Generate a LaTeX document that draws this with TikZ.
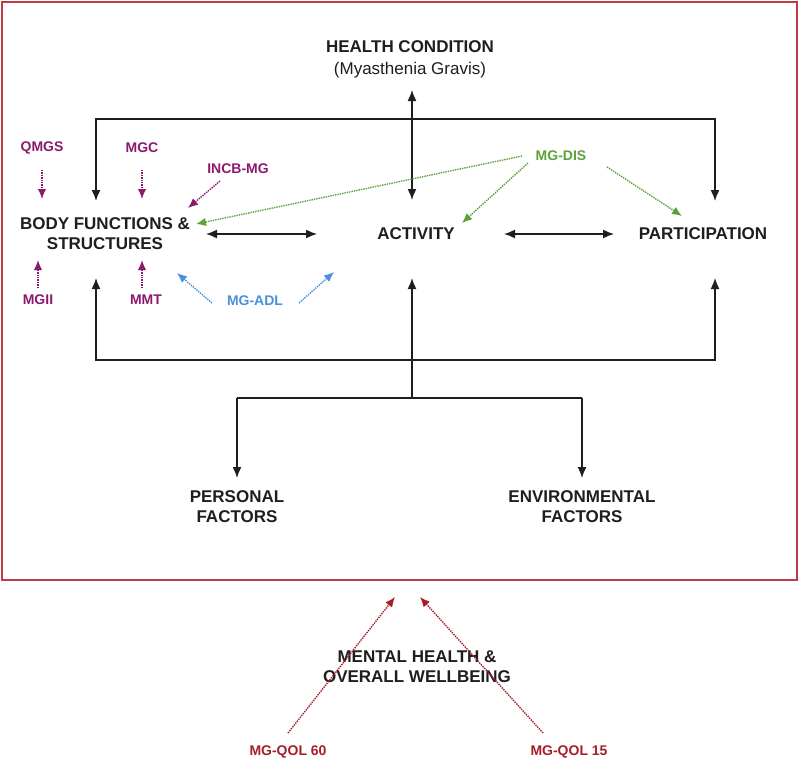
\documentclass[tikz,border=0pt]{standalone}
\usepackage{fontspec}
\setmainfont{Liberation Sans}
\usetikzlibrary{arrows.meta}
\definecolor{mgpurple}{RGB}{139,26,110}
\definecolor{mggreen}{RGB}{92,162,58}
\definecolor{mgblue}{RGB}{74,144,217}
\definecolor{mgred}{RGB}{165,30,40}
\definecolor{boxred}{RGB}{192,60,66}
\definecolor{ink}{RGB}{30,30,30}
\begin{document}
\begin{tikzpicture}[x=1pt,y=-1pt,
  lbl/.style={font=\fontsize{17}{20}\selectfont\bfseries, text=ink, align=center, inner sep=0pt},
  sm/.style={font=\fontsize{14}{16}\selectfont\bfseries, inner sep=0pt},
  tipA/.tip={Latex[length=11pt,width=9pt]},
  tipB/.tip={Latex[length=10pt,width=8.5pt]},
  blk/.style={line width=1.5pt, draw=ink, -tipA},
  dbl/.style={line width=1.5pt, draw=ink, tipA-tipA},
  dotarr/.style={line width=1.4pt, densely dotted, -tipB},
]
\useasboundingbox (0,0) rectangle (800,758);
\draw[boxred, line width=2pt] (2,2) rectangle (797,580);

% main labels
\node[lbl, anchor=north, font=\fontsize{17}{22}\selectfont\bfseries] (hc) at (410,40) {HEALTH CONDITION\\{\mdseries (Myasthenia Gravis)}};
\node[lbl] (bfs) at (105,234) {BODY FUNCTIONS \&\\STRUCTURES};
\node[lbl] (act) at (416,234) {ACTIVITY};
\node[lbl] (par) at (703,234) {PARTICIPATION};
\node[lbl] (pf) at (237,507) {PERSONAL\\FACTORS};
\node[lbl] (ef) at (582,507) {ENVIRONMENTAL\\FACTORS};
\node[lbl] (mh) at (417,667) {MENTAL HEALTH \&\\OVERALL WELLBEING};

% instrument labels
\node[sm, text=mgpurple] (qmgs) at (42,148) {QMGS};
\node[sm, text=mgpurple] (mgc) at (142,148) {MGC};
\node[sm, text=mgpurple] (incb) at (238,169) {INCB-MG};
\node[sm, text=mgpurple] (mgii) at (38,300) {MGII};
\node[sm, text=mgpurple] (mmt) at (146,300) {MMT};
\node[sm, text=mgblue] (adl) at (255,301) {MG-ADL};
\node[sm, text=mggreen] (dis) at (561,156) {MG-DIS};
\node[sm, text=mgred] (qol60) at (288,752) {MG-QOL 60};
\node[sm, text=mgred] (qol15) at (569,752) {MG-QOL 15};

% coordinates for the black connectors
\coordinate (hcA) at (412,90);
\coordinate (hcB) at (412,200);
\coordinate (tl) at (96,119);
\coordinate (tr) at (715,119);
\coordinate (tlB) at (96,201);
\coordinate (trB) at (715,201);
\coordinate (bl) at (96,360);
\coordinate (br) at (715,360);
\coordinate (blT) at (96,278);
\coordinate (brT) at (715,278);
\coordinate (mid) at (412,398);
\coordinate (midT) at (412,278);
\coordinate (fl) at (237,398);
\coordinate (fr) at (582,398);
\coordinate (flB) at (237,478);
\coordinate (frB) at (582,478);
\coordinate (baL) at (206,234);
\coordinate (baR) at (317,234);
\coordinate (apL) at (504,234);
\coordinate (apR) at (614,234);

\draw[dbl] (hcA) -- (hcB);
\draw[dbl] (tlB) -- (tl) -- (tr) -- (trB);
\draw[dbl] (blT) -- (bl) -- (br) -- (brT);
\draw[blk] (mid) -- (midT);
\draw[line width=1.5pt, draw=ink] (fl) -- (fr);
\draw[blk] (fl) -- (flB);
\draw[blk] (fr) -- (frB);
\draw[dbl] (baL) -- (baR);
\draw[dbl] (apL) -- (apR);

% coordinates for the dotted connectors
\coordinate (qmgsA) at (42,170);  \coordinate (qmgsB) at (42,199);
\coordinate (mgcA) at (142,170);  \coordinate (mgcB) at (142,199);
\coordinate (incbA) at (220,181); \coordinate (incbB) at (188,208);
\coordinate (mgiiA) at (38,288);  \coordinate (mgiiB) at (38,260);
\coordinate (mmtA) at (142,288);  \coordinate (mmtB) at (142,260);
\coordinate (adlA) at (212,303);  \coordinate (adlB) at (177,273);
\coordinate (adlC) at (299,303);  \coordinate (adlD) at (334,272);
\coordinate (disA) at (522,156);  \coordinate (disB) at (196,224);
\coordinate (disC) at (528,163);  \coordinate (disD) at (462,223);
\coordinate (disE) at (607,167);  \coordinate (disF) at (682,216);
\coordinate (qolA) at (288,733);  \coordinate (qolB) at (395,597);
\coordinate (qolC) at (543,733);  \coordinate (qolD) at (420,597);

\draw[dotarr, mgpurple] (qmgsA) -- (qmgsB);
\draw[dotarr, mgpurple] (mgcA) -- (mgcB);
\draw[dotarr, mgpurple] (incbA) -- (incbB);
\draw[dotarr, mgpurple] (mgiiA) -- (mgiiB);
\draw[dotarr, mgpurple] (mmtA) -- (mmtB);
\draw[dotarr, mgblue] (adlA) -- (adlB);
\draw[dotarr, mgblue] (adlC) -- (adlD);
\draw[dotarr, mggreen] (disA) -- (disB);
\draw[dotarr, mggreen] (disC) -- (disD);
\draw[dotarr, mggreen] (disE) -- (disF);
\draw[dotarr, mgred] (qolA) -- (qolB);
\draw[dotarr, mgred] (qolC) -- (qolD);
\end{tikzpicture}
\end{document}
